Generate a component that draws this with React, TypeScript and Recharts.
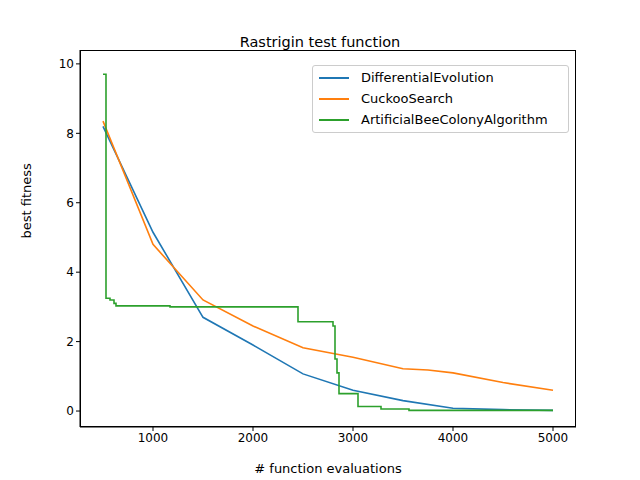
import { LineChart, Line, XAxis, YAxis, Label } from 'recharts';

const deX = [500, 1000, 1500, 2000, 2500, 3000, 3500, 4000, 4500, 5000];
const deY = [8.2, 5.15, 2.7, 1.9, 1.07, 0.6, 0.3, 0.08, 0.04, 0.02];

const csX = [500, 1000, 1500, 2000, 2500, 3000, 3500, 3750, 4000, 4500, 5000];
const csY = [8.35, 4.8, 3.2, 2.45, 1.82, 1.55, 1.22, 1.18, 1.1, 0.82, 0.6];

const abcX = [500, 530, 530, 570, 570, 610, 610, 630, 630, 1170, 1170, 2450, 2450, 2800, 2800, 2820, 2820, 2840, 2840, 2860, 2860, 3050, 3050, 3280, 3280, 3560, 3560, 5000];
const abcY = [9.7, 9.7, 3.25, 3.25, 3.2, 3.2, 3.1, 3.1, 3.03, 3.03, 3.0, 3.0, 2.57, 2.57, 2.45, 2.45, 1.5, 1.5, 1.1, 1.1, 0.5, 0.5, 0.13, 0.13, 0.06, 0.06, 0.02, 0.02];

const xTicks = [1000, 2000, 3000, 4000, 5000];
const yTicks = [0, 2, 4, 6, 8, 10];

const series = [
    { name: 'DifferentialEvolution', color: '#1f77b4', data: deX.map((x, i) => ({ x, y: deY[i] })) },
    { name: 'CuckooSearch', color: '#ff7f0e', data: csX.map((x, i) => ({ x, y: csY[i] })) },
    { name: 'ArtificialBeeColonyAlgorithm', color: '#2ca02c', data: abcX.map((x, i) => ({ x, y: abcY[i] })) },
];

const font = 'DejaVu Sans, sans-serif';

function LegendBox() {
    return (
        <div
            style={{
                position: 'absolute',
                left: 312,
                top: 65,
                border: '1px solid #ccc',
                borderRadius: 3,
                background: 'rgba(255,255,255,0.8)',
                padding: '1px 6px 2px',
                fontSize: 13,
                fontFamily: font,
                width: 243,
            }}
        >
            {series.map((s) => (
                <div key={s.name} style={{ display: 'flex', alignItems: 'center', height: 21 }}>
                    <span style={{ width: 30, height: 2, background: s.color, marginRight: 12 }} />
                    {s.name}
                </div>
            ))}
        </div>
    );
}

export default function App() {
    return (
        <div style={{ position: 'absolute', left: 0, top: 0, width: 640, height: 480, background: '#fff' }}>
            <div style={{ position: 'absolute', top: 34, width: 640, textAlign: 'center', fontFamily: font, fontSize: 14.5 }}>
                Rastrigin test function
            </div>
            <LineChart width={640} height={480} margin={{ top: 50, right: 64, bottom: 0, left: 0 }}>
                <XAxis
                    type="number"
                    dataKey="x"
                    domain={[270, 5230]}
                    ticks={xTicks}
                    height={53}
                    allowDuplicatedCategory={false}
                    stroke="#000"
                    tick={{ fill: '#000', fontSize: 12, fontFamily: font }}
                    tickSize={4}
                >
                    <Label value="# function evaluations" position="insideBottom" offset={7} fill="#000" fontSize={13} fontFamily={font} />
                </XAxis>
                <YAxis
                    type="number"
                    dataKey="y"
                    domain={[-0.46, 10.4]}
                    ticks={yTicks}
                    width={80}
                    stroke="#000"
                    tick={{ fill: '#000', fontSize: 12, fontFamily: font }}
                    tickSize={4}
                >
                    <Label value="best fitness" angle={-90} position="insideLeft" offset={26} fill="#000" fontSize={13} fontFamily={font} />
                </YAxis>
                {series.map((s) => (
                    <Line
                        key={s.name}
                        data={s.data}
                        dataKey="y"
                        name={s.name}
                        stroke={s.color}
                        strokeWidth={1.6}
                        dot={false}
                        type="linear"
                        isAnimationActive={false}
                    />
                ))}
            </LineChart>
            <div style={{ position: 'absolute', left: 80, top: 50, width: 496, height: 377, border: '1px solid #000', boxSizing: 'border-box', pointerEvents: 'none' }} />
            <LegendBox />
        </div>
    );
}
